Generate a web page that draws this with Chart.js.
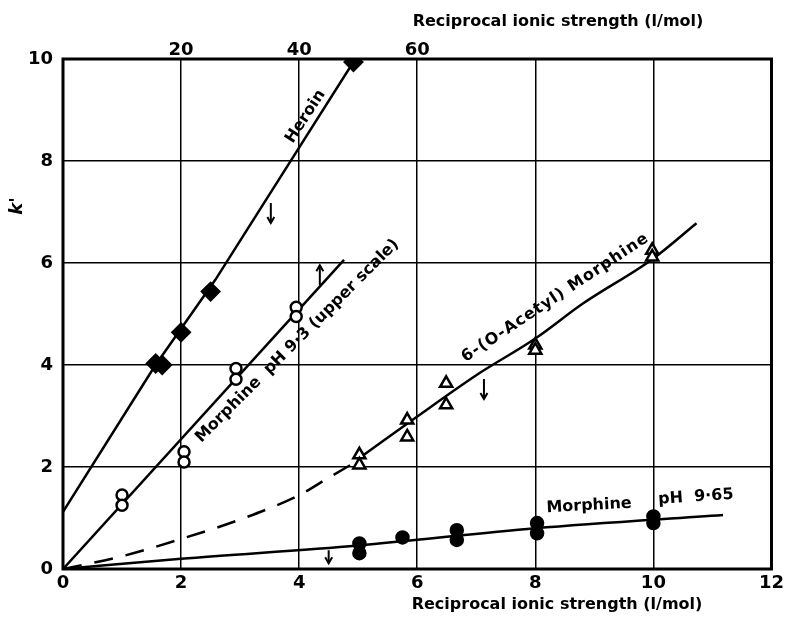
<!DOCTYPE html>
<html>
<head>
<meta charset="utf-8">
<script src="https://cdn.jsdelivr.net/npm/chart.js@4"></script>
<style>
  html, body { margin: 0; padding: 0; background: #fff; }
  #wrap { width: 788px; height: 617px; }
</style>
</head>
<body>
<div id="wrap"><canvas id="chart" width="788" height="617"></canvas></div>
<script>
// axis ticks
const xTicks = [0, 2, 4, 6, 8, 10, 12];
const yTicks = [0, 2, 4, 6, 8, 10];
const topTicks = [20, 40, 60];

// Heroin - filled diamonds
const heroinX = [1.57, 1.68, 2.0, 2.5, 4.92];
const heroinY = [4.03, 4.0, 4.64, 5.44, 9.94];
const heroinLineX = [0, 1.55, 2.58, 4.95];
const heroinLineY = [1.12, 3.97, 5.67, 10];

// Morphine pH 9.3 (upper scale) - open circles
const morph93X = [1.0, 1.0, 2.05, 2.05, 2.93, 2.93, 3.95, 3.95];
const morph93Y = [1.45, 1.25, 2.3, 2.1, 3.93, 3.72, 5.13, 4.95];
const morph93LineX = [0, 4.76];
const morph93LineY = [0, 6.06];

// 6-(O-Acetyl) Morphine - open triangles
const acetylX = [5.02, 5.02, 5.83, 5.83, 6.49, 6.49, 8.0, 8.0, 9.98, 9.98];
const acetylY = [2.24, 2.04, 2.92, 2.59, 3.64, 3.22, 4.39, 4.29, 6.25, 6.12];
const acetylLineX = [5.05, 6, 7, 8, 8.8, 10, 10.73];
const acetylLineY = [2.2, 2.99, 3.8, 4.52, 5.2, 6.09, 6.78];
const acetylDashX = [0, 1, 2, 3, 4, 4.5, 4.9];
const acetylDashY = [0, 0.25, 0.59, 0.97, 1.45, 1.79, 2.06];

// Morphine pH 9.65 - filled circles
const morph965X = [5.02, 5.02, 5.75, 6.67, 6.67, 8.03, 8.03, 10.0, 10.0];
const morph965Y = [0.5, 0.31, 0.62, 0.76, 0.57, 0.9, 0.7, 1.03, 0.9];
const morph965LineX = [0, 2, 5, 8, 11.18];
const morph965LineY = [0, 0.2, 0.46, 0.8, 1.06];

// curve labels (data coordinates) and arrows
const labelText = ['Heroin', 'Morphine  pH 9·3 (upper scale)', '6-(O-Acetyl) Morphine', 'Morphine', 'pH  9·65'];
const labelX = [4.11, 3.97, 8.34, 8.91, 10.72];
const labelY = [8.87, 4.47, 5.32, 1.24, 1.41];
const labelAngle = [-57, -45, -33.5, -3, -4];
const labelSpacing = [0, 0, 1, 0, 0];
const arrowX = [3.52, 4.35, 7.13, 4.5];
const arrowY = [6.98, 5.76, 3.53, 0.24];
const arrowDown = [true, false, true, true];

const pts = (xs, ys) => xs.map((x, i) => ({ x: x, y: ys[i] }));

const markerSet = (label, xs, ys, style, fill, r, bw) => ({
    label: label,
    data: pts(xs, ys),
    showLine: false,
    pointStyle: style,
    pointRadius: r,
    pointBackgroundColor: fill,
    pointBorderColor: '#000',
    pointBorderWidth: bw
});

const lineSet = (label, xs, ys, extra) => Object.assign({
    label: label,
    data: pts(xs, ys),
    showLine: true,
    pointRadius: 0,
    borderColor: '#000',
    borderWidth: 2.5,
    fill: false
}, extra || {});

const tickFont = { family: 'DejaVu Sans', weight: 'bold', size: 18 };

// labels, pijlen, kader en titels
const overlay = {
    id: 'overlay',
    beforeDatasetsDraw(chart) {
        const { ctx, chartArea: a } = chart;
        ctx.save();
        ctx.strokeStyle = '#000';
        ctx.lineWidth = 3;
        ctx.strokeRect(a.left, a.top, a.right - a.left, a.bottom - a.top);
        ctx.restore();
    },
    afterDatasetsDraw(chart) {
        const { ctx, scales } = chart;
        const sx = scales.x, sy = scales.y;
        ctx.save();
        ctx.fillStyle = '#000';
        ctx.strokeStyle = '#000';
        ctx.textAlign = 'center';
        ctx.textBaseline = 'middle';
        ctx.font = 'bold 16px "DejaVu Sans"';
        labelText.forEach((t, i) => {
            ctx.save();
            ctx.letterSpacing = labelSpacing[i] + 'px';
            ctx.translate(sx.getPixelForValue(labelX[i]), sy.getPixelForValue(labelY[i]));
            ctx.rotate(labelAngle[i] * Math.PI / 180);
            ctx.fillText(t, 0, 0);
            ctx.restore();
        });

        ctx.lineWidth = 2;
        arrowX.forEach((ax, i) => {
            const px = sx.getPixelForValue(ax);
            const py = sy.getPixelForValue(arrowY[i]);
            const len = i === 3 ? 13 : 20;
            const d = arrowDown[i] ? 1 : -1;
            ctx.beginPath();
            ctx.moveTo(px, py - d * len / 2);
            ctx.lineTo(px, py + d * len / 2);
            ctx.stroke();
            ctx.beginPath();
            ctx.moveTo(px - 3.5, py + d * (len / 2 - 6));
            ctx.lineTo(px, py + d * len / 2);
            ctx.lineTo(px + 3.5, py + d * (len / 2 - 6));
            ctx.stroke();
        });

        // as-titels
        ctx.font = 'bold 16px "DejaVu Sans"';
        ctx.fillText('Reciprocal ionic strength (l/mol)', 558, 22);
        ctx.fillText('Reciprocal ionic strength (l/mol)', 557, 605);
        ctx.save();
        ctx.translate(17, 206);
        ctx.rotate(-Math.PI / 2);
        ctx.font = 'italic bold 18px "DejaVu Sans"';
        ctx.fillText("k'", 0, 0);
        ctx.restore();
        ctx.restore();
    }
};

const ctx = document.getElementById('chart').getContext('2d');

new Chart(ctx, {
    type: 'scatter',
    data: {
        datasets: [
            markerSet('Heroin', heroinX, heroinY, 'rectRot', '#000', 9, 2),
            markerSet('Morphine pH 9.3', morph93X, morph93Y, 'circle', '#fff', 5.5, 2.5),
            markerSet('6-(O-Acetyl) Morphine', acetylX, acetylY, 'triangle', '#fff', 7, 2.5),
            markerSet('Morphine pH 9.65', morph965X, morph965Y, 'circle', '#000', 6.5, 1.5),
            lineSet('Heroin fit', heroinLineX, heroinLineY),
            lineSet('Morphine pH 9.3 fit', morph93LineX, morph93LineY),
            lineSet('Acetyl fit', acetylLineX, acetylLineY, { tension: 0.4, cubicInterpolationMode: 'monotone' }),
            lineSet('Acetyl extrapolated', acetylDashX, acetylDashY, { tension: 0.4, cubicInterpolationMode: 'monotone', borderDash: [19, 13] }),
            lineSet('Morphine pH 9.65 fit', morph965LineX, morph965LineY, { tension: 0.3, cubicInterpolationMode: 'monotone' })
        ]
    },
    options: {
        responsive: false,
        animation: false,
        events: [],
        plugins: {
            legend: { display: false },
            tooltip: { enabled: false }
        },
        layout: { padding: { left: 0, right: 11, top: 0, bottom: 0 } },
        scales: {
            x: {
                type: 'linear',
                position: 'bottom',
                min: 0,
                max: 12,
                afterBuildTicks: s => { s.ticks = xTicks.map(v => ({ value: v })); },
                afterFit: s => { s.height = 48; },
                ticks: { font: tickFont, color: '#000', padding: 4, maxRotation: 0, autoSkip: false },
                grid: { color: '#000', lineWidth: 1.5, drawTicks: false },
                border: { display: false }
            },
            x2: {
                type: 'linear',
                position: 'top',
                min: 0,
                max: 120,
                afterBuildTicks: s => { s.ticks = topTicks.map(v => ({ value: v })); },
                afterFit: s => { s.height = 59; },
                ticks: { font: tickFont, color: '#000', padding: -2, maxRotation: 0, autoSkip: false },
                grid: { display: false, drawTicks: false },
                border: { display: false }
            },
            y: {
                type: 'linear',
                min: 0,
                max: 10,
                afterBuildTicks: s => { s.ticks = yTicks.map(v => ({ value: v })); },
                afterFit: s => { s.width = 63; },
                ticks: { font: tickFont, color: '#000', padding: 10, autoSkip: false },
                grid: { color: '#000', lineWidth: 1.5, drawTicks: false },
                border: { display: false }
            }
        }
    },
    plugins: [overlay]
});
</script>
</body>
</html>
